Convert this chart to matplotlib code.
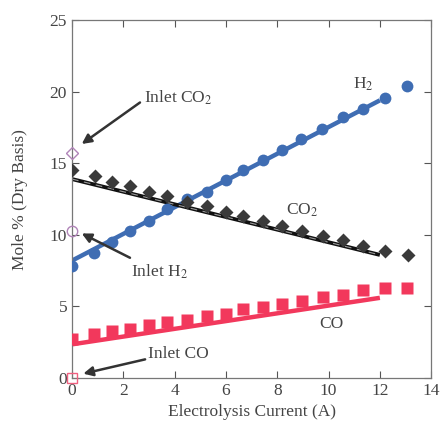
import matplotlib
matplotlib.use("Agg")
import matplotlib.pyplot as plt

# H2 measured (blue circles)
h2_x = [0.0, 0.87, 1.55, 2.26, 3.0, 3.72, 4.5, 5.25, 6.0, 6.68, 7.43, 8.2, 8.93, 9.75, 10.55, 11.36, 12.19, 13.07]
h2_y = [7.8, 8.7, 9.5, 10.3, 11.0, 11.8, 12.5, 13.0, 13.8, 14.5, 15.2, 15.95, 16.7, 17.4, 18.25, 18.8, 19.55, 20.4]
# CO2 measured (dark diamonds)
co2_x = [0.0, 0.9, 1.55, 2.26, 3.0, 3.72, 4.47, 5.25, 6.0, 6.68, 7.43, 8.2, 8.95, 9.77, 10.58, 11.36, 12.19, 13.09]
co2_y = [14.5, 14.1, 13.7, 13.4, 13.0, 12.7, 12.3, 12.05, 11.6, 11.3, 10.95, 10.6, 10.25, 9.9, 9.65, 9.2, 8.85, 8.57]
# CO measured (red squares)
co_x = [0.0, 0.87, 1.55, 2.26, 3.0, 3.72, 4.47, 5.25, 6.0, 6.68, 7.43, 8.2, 8.95, 9.77, 10.55, 11.36, 12.19, 13.07]
co_y = [2.7, 3.07, 3.27, 3.45, 3.7, 3.92, 4.08, 4.3, 4.5, 4.85, 4.97, 5.15, 5.39, 5.67, 5.78, 6.13, 6.31, 6.31]
# model lines
line_x = [0.0, 12.0]
h2_line = [8.2, 19.4]
co2_line = [13.9, 8.6]
co_line = [2.35, 5.6]
# inlet compositions
inlet_co2 = 15.7
inlet_h2 = 10.3
inlet_co = 0.0

xticks = [0, 2, 4, 6, 8, 10, 12, 14]
yticks = [0, 5, 10, 15, 20, 25]

plt.rcParams['font.family'] = ['Liberation Serif', 'DejaVu Serif']
plt.rcParams['mathtext.fontset'] = 'stix'

fig = plt.figure(figsize=(4.4, 4.3), dpi=100)
ax = fig.add_axes([0.1636, 0.121, 0.8164, 0.832])

blue = '#3f6db3'
red = '#f2385c'
dark = '#3a3a3a'
inlet_col = '#b084b8'

ax.plot(line_x, h2_line, color=blue, lw=3.2, solid_capstyle='butt', zorder=2)
ax.plot(line_x, co2_line, color='#111111', lw=2.8, solid_capstyle='butt', zorder=2)
ax.plot(line_x, co2_line, color='#9a9a9a', lw=0.8, ls=(0, (6, 5)), zorder=2)
ax.plot(line_x, co_line, color=red, lw=3.2, solid_capstyle='butt', zorder=2)

ax.plot(h2_x, h2_y, 'o', color=blue, ms=8.5, mec='none', zorder=3)
ax.plot(co2_x, co2_y, 'D', color=dark, ms=6.8, mec='none', zorder=3)
ax.plot(co_x, co_y, 's', color=red, ms=8, mec='none', zorder=3)

ax.plot([0], [inlet_co2], 'D', mfc='none', mec=inlet_col, ms=6, mew=1, clip_on=False, zorder=4)
ax.plot([0], [inlet_h2], 'o', mfc='none', mec=inlet_col, ms=7.5, mew=1, clip_on=False, zorder=4)
ax.plot([0], [inlet_co], 's', mfc='none', mec='#f06080', ms=7, mew=1, clip_on=False, zorder=4)

arrow = dict(arrowstyle='-|>', color='#333333', lw=1.8, mutation_scale=14, shrinkA=0, shrinkB=0)
ax.annotate('', xy=(0.38, 16.35), xytext=(2.65, 19.25), arrowprops=arrow)
ax.annotate('', xy=(0.38, 10.1), xytext=(2.26, 8.4), arrowprops=arrow)
ax.annotate('', xy=(0.44, 0.3), xytext=(2.85, 1.3), arrowprops=arrow)

fs = 12.5
tc = '#444444'
ax.text(2.8, 19.6, r'Inlet CO$_2$', fontsize=fs, color=tc, va='center')
ax.text(2.3, 7.4, r'Inlet H$_2$', fontsize=fs, color=tc, va='center')
ax.text(2.95, 1.7, 'Inlet CO', fontsize=fs, color=tc, va='center')
ax.text(10.95, 20.5, r'H$_2$', fontsize=fs, color=tc, va='center')
ax.text(8.35, 11.7, r'CO$_2$', fontsize=fs, color=tc, va='center')
ax.text(9.65, 3.8, 'CO', fontsize=fs, color=tc, va='center')

ax.set_xlim(0, 14)
ax.set_ylim(0, 25)
ax.set_xticks(xticks)
ax.set_yticks(yticks)
ax.tick_params(direction='in', top=True, right=True, labelsize=fs, colors='#555555',
               labelcolor=tc, length=5, width=0.8)
for s in ax.spines.values():
    s.set_color('#777777')
    s.set_linewidth(0.9)
ax.set_xlabel('Electrolysis Current (A)', fontsize=fs, color=tc, labelpad=4)
ax.set_ylabel('Mole % (Dry Basis)', fontsize=fs, color=tc, labelpad=16)

fig.savefig('out.png', dpi=100)
